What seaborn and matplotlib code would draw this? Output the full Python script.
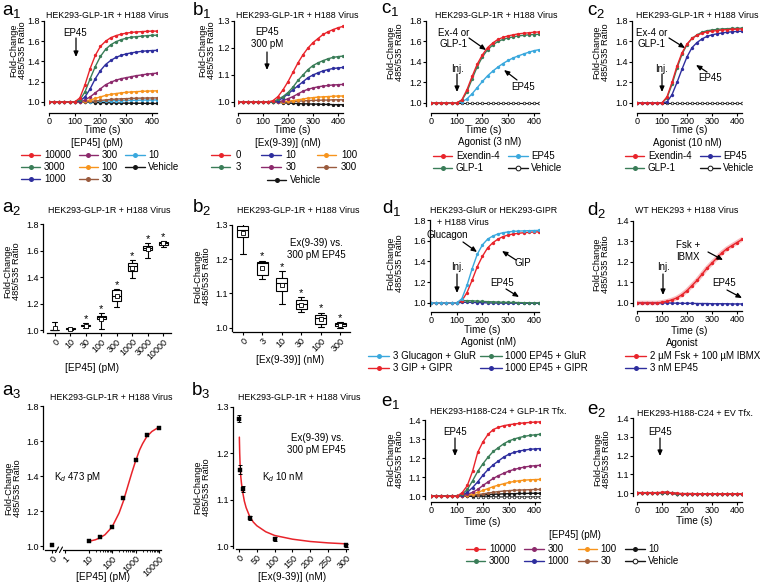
import numpy as np
import pandas as pd
import matplotlib
matplotlib.use("Agg")
import matplotlib.pyplot as plt
from matplotlib.lines import Line2D
from matplotlib.ticker import FixedLocator, NullFormatter
import seaborn as sns

sns.set_style("ticks", rc={"axes.edgecolor": "black", "xtick.color": "black",
                           "ytick.color": "black", "text.color": "black",
                           "axes.labelcolor": "black"})
plt.rcParams["font.family"] = ["Liberation Sans", "DejaVu Sans"]
plt.rcParams["mathtext.fontset"] = "custom"
plt.rcParams["mathtext.rm"] = "Liberation Sans"
plt.rcParams["mathtext.it"] = "Liberation Sans:italic"
plt.rcParams["mathtext.bf"] = "Liberation Sans:bold"

# ---------------- colours ----------------
RED = "#e8242b"
GREEN = "#3a7d58"
BLUE = "#2e2e9e"
PURPLE = "#8c2a6c"
ORANGE = "#f7941d"
BROWN = "#9a5b3e"
LBLUE = "#3aa8dd"
BLACK = "#151515"

# ---------------- data ----------------
T = [0, 20, 40, 60, 80, 100, 120, 140, 160, 180, 200, 220, 240, 260, 280, 300, 320, 340, 360, 380, 400, 420]

# a1: EP45 concentration (pM)
A1_LABELS = ["10000", "3000", "1000", "300", "100", "30", "10", "Vehicle"]
A1_10000 = [1, 1, 1, 1, 1, 1.0, 1.04, 1.17, 1.33, 1.46, 1.55, 1.60, 1.635, 1.655, 1.67, 1.68, 1.687, 1.692, 1.695, 1.698, 1.70, 1.70]
A1_3000 = [1, 1, 1, 1, 1, 1.0, 1.02, 1.10, 1.23, 1.35, 1.45, 1.52, 1.565, 1.595, 1.615, 1.63, 1.64, 1.645, 1.65, 1.655, 1.658, 1.66]
A1_1000 = [1, 1, 1, 1, 1, 1.0, 1.01, 1.05, 1.13, 1.23, 1.31, 1.37, 1.41, 1.44, 1.46, 1.475, 1.485, 1.493, 1.50, 1.505, 1.508, 1.51]
A1_300 = [1, 1, 1, 1, 1, 1.0, 1.0, 1.02, 1.05, 1.09, 1.13, 1.17, 1.195, 1.215, 1.23, 1.24, 1.25, 1.26, 1.267, 1.275, 1.28, 1.285]
A1_100 = [1, 1, 1, 1, 1, 1.0, 1.0, 1.005, 1.02, 1.035, 1.05, 1.065, 1.075, 1.083, 1.09, 1.095, 1.099, 1.102, 1.105, 1.107, 1.109, 1.11]
A1_30 = [1, 1, 1, 1, 1, 1.0, 1.0, 1.0, 1.005, 1.01, 1.015, 1.02, 1.025, 1.028, 1.031, 1.033, 1.035, 1.037, 1.038, 1.039, 1.04, 1.04]
A1_10 = [1, 1, 1, 1, 1, 1.0, 1.0, 1.0, 1.002, 1.005, 1.007, 1.009, 1.011, 1.013, 1.014, 1.015, 1.016, 1.017, 1.018, 1.019, 1.019, 1.02]
A1_VEH = [1, 1, 1, 1, 1, 1.0, 1.0, 0.998, 0.996, 0.994, 0.993, 0.992, 0.991, 0.99, 0.989, 0.988, 0.988, 0.987, 0.987, 0.986, 0.986, 0.985]

# b1: Ex(9-39) (nM) against 300 pM EP45
B1_LABELS = ["0", "3", "10", "30", "100", "300", "Vehicle"]
B1_0 = [1, 1, 1, 1, 1, 1, 1.0, 1.005, 1.02, 1.045, 1.075, 1.11, 1.145, 1.175, 1.20, 1.22, 1.235, 1.25, 1.26, 1.268, 1.275, 1.28]
B1_3 = [1, 1, 1, 1, 1, 1, 1.0, 1.0, 1.01, 1.02, 1.035, 1.055, 1.08, 1.10, 1.12, 1.135, 1.145, 1.153, 1.16, 1.165, 1.168, 1.17]
B1_10 = [1, 1, 1, 1, 1, 1, 1.0, 1.0, 1.005, 1.015, 1.03, 1.045, 1.06, 1.075, 1.09, 1.10, 1.108, 1.115, 1.12, 1.124, 1.126, 1.128]
B1_30 = [1, 1, 1, 1, 1, 1, 1.0, 1.0, 1.0, 1.005, 1.012, 1.02, 1.03, 1.04, 1.047, 1.052, 1.056, 1.059, 1.061, 1.063, 1.064, 1.065]
B1_100 = [1, 1, 1, 1, 1, 1, 1.0, 1.0, 1.0, 1.001, 1.003, 1.005, 1.008, 1.011, 1.014, 1.016, 1.018, 1.019, 1.02, 1.021, 1.022, 1.022]
B1_300 = [1, 1, 1, 1, 1, 1, 1.0, 1.0, 1.0, 1.0, 1.001, 1.002, 1.003, 1.004, 1.005, 1.006, 1.006, 1.007, 1.007, 1.008, 1.008, 1.008]
B1_VEH = [1, 1, 1, 1, 1, 1, 1.0, 0.999, 0.998, 0.997, 0.996, 0.995, 0.994, 0.993, 0.993, 0.992, 0.992, 0.991, 0.991, 0.99, 0.99, 0.99]

# c1: agonists at 3 nM
C_LABELS = ["Exendin-4", "GLP-1", "EP45", "Vehicle"]
C1_EX4 = [1, 1, 1, 1, 1, 1.0, 1.03, 1.13, 1.26, 1.38, 1.47, 1.54, 1.585, 1.62, 1.64, 1.655, 1.665, 1.675, 1.68, 1.685, 1.69, 1.693]
C1_GLP1 = [1, 1, 1, 1, 1, 1.0, 1.025, 1.11, 1.235, 1.355, 1.45, 1.52, 1.565, 1.60, 1.62, 1.635, 1.645, 1.655, 1.66, 1.665, 1.668, 1.67]
C1_EP45 = [1, 1, 1, 1, 1, 1.0, 1.01, 1.04, 1.09, 1.15, 1.21, 1.265, 1.31, 1.35, 1.385, 1.415, 1.44, 1.46, 1.478, 1.495, 1.51, 1.52]
C1_VEH = [1.0] * 22

# c2: agonists at 10 nM
C2_EX4 = [1, 1, 1, 1, 1, 1.0, 1.06, 1.20, 1.36, 1.49, 1.575, 1.63, 1.66, 1.68, 1.695, 1.70, 1.707, 1.712, 1.716, 1.718, 1.72, 1.722]
C2_GLP1 = [1, 1, 1, 1, 1, 1.0, 1.05, 1.18, 1.34, 1.475, 1.57, 1.63, 1.665, 1.69, 1.705, 1.712, 1.718, 1.722, 1.725, 1.727, 1.729, 1.73]
C2_EP45 = [1, 1, 1, 1, 1, 1.0, 1.01, 1.08, 1.20, 1.33, 1.45, 1.54, 1.59, 1.625, 1.65, 1.665, 1.675, 1.683, 1.69, 1.695, 1.698, 1.70]
C2_VEH = [1.0] * 22

# d1: GluR / GIPR cells
D1_LABELS = ["3 Glucagon + GluR", "3 GIP + GIPR", "1000 EP45 + GluR", "1000 EP45 + GIPR"]
D1_GLUC = [1, 1, 1, 1, 1, 1.0, 1.04, 1.17, 1.33, 1.47, 1.56, 1.615, 1.645, 1.665, 1.677, 1.685, 1.69, 1.693, 1.695, 1.697, 1.698, 1.70]
D1_GIP = [1, 1, 1, 1, 1, 1.0, 1.02, 1.10, 1.22, 1.35, 1.45, 1.53, 1.58, 1.615, 1.64, 1.655, 1.665, 1.672, 1.677, 1.681, 1.684, 1.686]
D1_EP_GLUR = [1, 1, 1, 1, 1, 1.002, 1.02, 1.022, 1.02, 1.017, 1.014, 1.012, 1.01, 1.008, 1.006, 1.005, 1.004, 1.003, 1.002, 1.001, 1.0, 1.0]
D1_EP_GIPR = [1, 1, 1, 1, 1, 1.0, 1.005, 1.006, 1.005, 1.003, 1.002, 1.0, 0.999, 0.998, 0.998, 0.997, 0.997, 0.997, 0.996, 0.996, 0.996, 0.996]

# d2: WT HEK293
D2_LABELS = ["2 \u00b5M Fsk + 100 \u00b5M IBMX", "3 nM EP45"]
D2_FSK = [1, 1, 1, 1, 1, 1.003, 1.008, 1.015, 1.025, 1.04, 1.06, 1.085, 1.11, 1.14, 1.17, 1.195, 1.22, 1.245, 1.265, 1.28, 1.295, 1.31]
D2_EP45 = [1, 1, 1, 1, 1, 1.0, 1.0, 0.999, 0.999, 0.998, 0.998, 0.998, 0.997, 0.997, 0.997, 0.996, 0.996, 0.996, 0.996, 0.995, 0.995, 0.995]

# e1: HEK293-H188-C24 + GLP-1R
E_LABELS = ["10000", "3000", "300", "1000", "100", "30", "10", "Vehicle"]
E1_10000 = [1, 1, 1, 1, 1, 1.0, 1.018, 1.056, 1.13, 1.23, 1.285, 1.325, 1.35, 1.362, 1.37, 1.375, 1.379, 1.382, 1.385, 1.387, 1.389, 1.39]
E1_3000 = [1, 1, 1, 1, 1, 1.0, 1.01, 1.035, 1.08, 1.13, 1.17, 1.205, 1.235, 1.255, 1.275, 1.29, 1.30, 1.308, 1.314, 1.319, 1.322, 1.325]
E1_1000 = [1, 1, 1, 1, 1, 1.0, 1.005, 1.02, 1.045, 1.075, 1.11, 1.14, 1.165, 1.185, 1.205, 1.22, 1.23, 1.237, 1.242, 1.246, 1.248, 1.25]
E1_300 = [1, 1, 1, 1, 1, 1.0, 1.002, 1.01, 1.02, 1.035, 1.056, 1.075, 1.093, 1.108, 1.12, 1.132, 1.14, 1.147, 1.153, 1.157, 1.16, 1.162]
E1_100 = [1, 1, 1, 1, 1, 1.0, 1.0, 1.005, 1.012, 1.02, 1.03, 1.04, 1.05, 1.058, 1.065, 1.072, 1.077, 1.081, 1.084, 1.086, 1.087, 1.088]
E1_30 = [1, 1, 1, 1, 1, 1.0, 1.0, 1.002, 1.005, 1.008, 1.012, 1.016, 1.02, 1.024, 1.027, 1.029, 1.031, 1.032, 1.033, 1.034, 1.035, 1.035]
E1_10 = [1, 1, 1, 1, 1, 1.0, 1.0, 1.0, 1.002, 1.004, 1.006, 1.008, 1.01, 1.011, 1.012, 1.013, 1.013, 1.014, 1.014, 1.015, 1.015, 1.015]
E1_VEH = [1, 1, 1, 1, 1, 1.0, 1.0, 0.999, 0.998, 0.998, 0.997, 0.997, 0.997, 0.996, 0.996, 0.996, 0.996, 0.996, 0.996, 0.996, 0.996, 0.996]

# e2: HEK293-H188-C24 + empty vector
E2_10000 = [1.003, 1.003, 1.003, 1.003, 1.003, 1.004, 1.005, 1.002, 0.999, 0.998, 0.998, 0.998, 0.997, 0.997, 0.997, 0.997, 0.997, 0.997, 0.997, 0.997, 0.997, 0.997]
E2_3000 = [1.002, 1.002, 1.002, 1.002, 1.002, 1.003, 1.005, 1.001, 0.998, 0.997, 0.997, 0.997, 0.997, 0.996, 0.996, 0.996, 0.996, 0.996, 0.996, 0.996, 0.996, 0.996]
E2_1000 = [1.002, 1.002, 1.002, 1.002, 1.002, 1.003, 1.004, 1.0, 0.998, 0.997, 0.996, 0.996, 0.996, 0.996, 0.996, 0.996, 0.996, 0.996, 0.996, 0.996, 0.996, 0.996]
E2_300 = [1.002, 1.002, 1.002, 1.002, 1.002, 1.003, 1.004, 1.0, 0.997, 0.996, 0.996, 0.996, 0.996, 0.996, 0.995, 0.995, 0.995, 0.995, 0.995, 0.995, 0.995, 0.995]
E2_100 = [1.001, 1.001, 1.001, 1.001, 1.001, 1.002, 1.004, 1.0, 0.997, 0.996, 0.996, 0.995, 0.995, 0.995, 0.995, 0.995, 0.995, 0.995, 0.995, 0.995, 0.995, 0.995]
E2_30 = [1.001, 1.001, 1.001, 1.001, 1.001, 1.002, 1.003, 0.999, 0.997, 0.996, 0.995, 0.995, 0.995, 0.995, 0.995, 0.995, 0.995, 0.995, 0.995, 0.995, 0.995, 0.995]
E2_10 = [1.001, 1.001, 1.001, 1.001, 1.001, 1.002, 1.003, 0.999, 0.996, 0.995, 0.995, 0.995, 0.995, 0.995, 0.995, 0.995, 0.995, 0.995, 0.995, 0.995, 0.995, 0.995]
E2_VEH = [1.0, 1.0, 1.0, 1.0, 1.0, 1.001, 1.002, 0.999, 0.997, 0.996, 0.996, 0.996, 0.996, 0.996, 0.996, 0.996, 0.996, 0.996, 0.996, 0.996, 0.996, 0.996]

# a2: box summaries (min, q1, median, q3, max) per EP45 concentration
A2_CATS = ["0", "10", "30", "100", "300", "1000", "3000", "10000"]
A2_VALUES = [
    [0.998, 0.999, 1.0, 1.002, 1.063],
    [1.0, 1.005, 1.01, 1.013, 1.017],
    [1.018, 1.027, 1.035, 1.04, 1.05],
    [1.01, 1.085, 1.098, 1.108, 1.125],
    [1.175, 1.22, 1.26, 1.30, 1.31],
    [1.39, 1.447, 1.48, 1.505, 1.525],
    [1.543, 1.607, 1.62, 1.633, 1.655],
    [1.63, 1.645, 1.655, 1.662, 1.675],
]
A2_SIG = [False, False, True, True, True, True, True, True]

# b2: box summaries per Ex(9-39) concentration
B2_CATS = ["0", "3", "10", "30", "100", "300"]
B2_VALUES = [
    [1.215, 1.264, 1.285, 1.297, 1.318],
    [1.143, 1.155, 1.189, 1.193, 1.196],
    [1.07, 1.108, 1.13, 1.145, 1.165],
    [1.045, 1.053, 1.068, 1.082, 1.089],
    [1.003, 1.01, 1.027, 1.037, 1.044],
    [1.0, 1.004, 1.01, 1.012, 1.017],
]
B2_SIG = [False, True, True, True, True, True]

# a3: concentration-response
A3_CONC = [0, 10, 30, 100, 300, 1000, 3000, 10000]
A3_RESP = [1.008, 1.032, 1.055, 1.109, 1.276, 1.491, 1.632, 1.676]
A3_FIT_X = [10, 20, 30, 50, 100, 200, 300, 500, 700, 1000, 1500, 2000, 3000, 5000, 10000]
A3_FIT_Y = [1.028, 1.038, 1.048, 1.066, 1.11, 1.19, 1.255, 1.355, 1.42, 1.485, 1.55, 1.585, 1.625, 1.655, 1.68]

# b3: antagonist inhibition
B3_CONC = [0, 3, 10, 30, 100, 300]
B3_RESP = [1.275, 1.165, 1.123, 1.061, 1.016, 1.002]
B3_ERR = [0.007, 0.009, 0.007, 0.004, 0.004, 0.003]
B3_FIT_X = [1, 2, 3, 5, 7, 10, 15, 20, 30, 40, 50, 75, 100, 150, 200, 250, 300]
B3_FIT_Y = [1.235, 1.20, 1.178, 1.15, 1.135, 1.118, 1.097, 1.083, 1.064, 1.052, 1.044, 1.031, 1.023, 1.015, 1.01, 1.007, 1.005]

# ---------------- figure helpers ----------------
W, H = 760, 587
fig = plt.figure(figsize=(7.6, 5.87), dpi=100)

FS_TICK = 6.5
FS_LAB = 7.2
FS_TITLE = 6.4
FS_LEG = 7
FS_ANN = 7
FS_YLAB = 6.7

YLABEL = "Fold-Change\n485/535 Ratio"


def fx(x):
    return x / W


def fy(y):
    return 1 - y / H


def px_ax(x0, x1, ytop, ybot):
    return fig.add_axes([x0 / W, 1 - ybot / H, (x1 - x0) / W, (ybot - ytop) / H])


def ftext(x, y, s, size=FS_ANN, ha="center", va="center", **kw):
    fig.text(fx(x), fy(y), s, fontsize=size, ha=ha, va=va, **kw)


def style_ax(ax, loff, boff, ylab_xy):
    for s in ["top", "right"]:
        ax.spines[s].set_visible(False)
    ax.spines["left"].set_position(("outward", loff * 0.72))
    ax.spines["bottom"].set_position(("outward", boff * 0.72))
    for s in ["left", "bottom"]:
        ax.spines[s].set_linewidth(0.9)
    ax.tick_params(axis="both", length=2.2, width=0.8, labelsize=FS_TICK, pad=0.8)
    ax.set_facecolor("none")
    ax.set_xlabel("")
    ax.set_ylabel("")
    fig.text(fx(ylab_xy[0] - 2), fy(ylab_xy[1]), YLABEL, rotation=90, fontsize=FS_YLAB,
             ha="center", va="center", multialignment="center", linespacing=1.05)


def trace(ax, y, color, open_marker=False, lw=1.0, z=2):
    kw = dict(marker="o", markersize=2.4, markeredgewidth=0)
    if open_marker:
        kw = dict(marker="o", markersize=1.9, markerfacecolor="white",
                  markeredgecolor=color, markeredgewidth=0.5)
    sns.lineplot(x=T, y=y, ax=ax, color=color, linewidth=lw, legend=False, zorder=z, **kw)


def handle(color, open_marker=False):
    if open_marker:
        return Line2D([], [], color=color, lw=1.0, marker="o", ms=3.4,
                      mfc="white", mec=color, mew=0.7)
    return Line2D([], [], color=color, lw=1.0, marker="o", ms=3.6, mew=0)


def legend_at(handles, labels, x, y, ncol, colsp=0.8, hl=2.0, tp=0.35):
    fig.legend(handles, labels, loc="upper left", bbox_to_anchor=(fx(x), fy(y)),
               ncol=ncol, frameon=False, fontsize=FS_LEG, handlelength=hl,
               handletextpad=tp, columnspacing=colsp, labelspacing=0.22,
               borderpad=0, borderaxespad=0)


def arrow(tail, tip):
    fig.add_artist(matplotlib.patches.FancyArrowPatch(
        (fx(tail[0]), fy(tail[1])), (fx(tip[0]), fy(tip[1])),
        transform=fig.transFigure, arrowstyle="-|>,head_length=3.2,head_width=1.4",
        color="black", lw=0.9, shrinkA=0, shrinkB=0))


def plabel(letter, sub, x, y):
    fig.text(fx(x), fy(y), letter + "$_{" + sub + "}$", fontsize=13.5, ha="left", va="baseline")


def time_axes(ax, ylim, yticks, xlab_xy):
    ax.set_xlim(0, 420)
    ax.set_ylim(*ylim)
    ax.set_xticks([0, 100, 200, 300, 400])
    ax.set_yticks(yticks)
    ax.set_yticklabels([f"{v:.1f}" for v in yticks])
    ftext(xlab_xy[0], xlab_xy[1], "Time (s)", size=FS_LAB)


# ================= a1 =================
ax = px_ax(49, 157, 21, 105)
a1_series = [A1_10000, A1_3000, A1_1000, A1_300, A1_100, A1_30, A1_10, A1_VEH]
a1_cols = [RED, GREEN, BLUE, PURPLE, ORANGE, BROWN, LBLUE, BLACK]
for y, c in list(zip(a1_series, a1_cols))[::-1]:
    trace(ax, y, c)
time_axes(ax, (0.97, 1.8), [1.0, 1.2, 1.4, 1.6, 1.8], (102, 130))
style_ax(ax, 5, 8, (20, 50))
ftext(107, 15, "HEK293-GLP-1R + H188 Virus", size=FS_TITLE)
ftext(75, 33, "EP45")
arrow((76, 38), (76, 57))
ftext(97, 143, "[EP45] (pM)", size=FS_LEG)
legend_at([handle(c) for c in a1_cols], A1_LABELS, 21, 150, 3)
plabel("a", "1", 2, 15)

# ================= b1 =================
ax = px_ax(238, 343, 21, 106)
b1_series = [B1_0, B1_3, B1_10, B1_30, B1_100, B1_300, B1_VEH]
b1_cols = [RED, GREEN, BLUE, PURPLE, ORANGE, BROWN, BLACK]
for y, c in list(zip(b1_series, b1_cols))[::-1]:
    trace(ax, y, c)
time_axes(ax, (0.985, 1.3), [1.0, 1.1, 1.2, 1.3], (292, 130))
style_ax(ax, 4, 7, (209, 50))
ftext(297, 15, "HEK293-GLP-1R + H188 Virus", size=FS_TITLE)
ftext(267, 32, "EP45")
ftext(267, 44, "300 pM")
arrow((267, 52), (267, 70))
ftext(288, 143, "[Ex(9-39)] (nM)", size=FS_LEG)
legend_at([handle(c) for c in b1_cols[:6]], B1_LABELS[:6], 211, 150, 3, colsp=2.1, tp=0.5)
legend_at([handle(BLACK)], ["Vehicle"], 267, 175, 1, tp=0.35)
plabel("b", "1", 192, 15)

# ================= c1 =================
ax = px_ax(431, 539, 21, 106)
trace(ax, C1_VEH, BLACK, open_marker=True, lw=0.8)
trace(ax, C1_EP45, LBLUE)
trace(ax, C1_GLP1, GREEN)
trace(ax, C1_EX4, RED)
time_axes(ax, (0.97, 1.8), [1.0, 1.2, 1.4, 1.6, 1.8], (483, 130))
style_ax(ax, 5, 7, (397, 52))
ftext(496, 15, "HEK293-GLP-1R + H188 Virus", size=FS_TITLE)
ftext(454, 33, "Ex-4 or")
ftext(454, 44, "GLP-1")
arrow((469, 38), (486, 50))
ftext(457, 69, "Inj.")
arrow((457, 74), (457, 92))
ftext(523, 87, "EP45")
arrow((517, 80), (504, 70))
ftext(490, 142, "Agonist (3 nM)", size=FS_LEG)
legend_at([handle(RED), handle(GREEN), handle(LBLUE), handle(BLACK, True)],
          C_LABELS, 433, 151, 2, colsp=0.9)
plabel("c", "1", 381, 13)

# ================= c2 =================
ax = px_ax(637, 742, 21, 106)
trace(ax, C2_VEH, BLACK, open_marker=True, lw=0.8)
trace(ax, C2_GLP1, GREEN)
trace(ax, C2_EP45, BLUE)
trace(ax, C2_EX4, RED)
time_axes(ax, (0.97, 1.8), [1.0, 1.2, 1.4, 1.6, 1.8], (689, 130))
style_ax(ax, 5, 7, (603, 52))
ftext(697, 15, "HEK293-GLP-1R + H188 Virus", size=FS_TITLE)
ftext(652, 33, "Ex-4 or")
ftext(652, 44, "GLP-1")
arrow((669, 38), (685, 48))
ftext(662, 69, "Inj.")
arrow((662, 74), (662, 92))
ftext(710, 78, "EP45")
arrow((707, 72), (696, 65))
ftext(687, 143, "Agonist (10 nM)", size=FS_LEG)
legend_at([handle(RED), handle(GREEN), handle(BLUE), handle(BLACK, True)],
          C_LABELS, 625, 151, 2, colsp=0.9)
plabel("c", "2", 587, 15)


# ================= a2 / b2 =================
def box_panel(ax, cats, values, sig, ylim, yticks, width, ast_off):
    df = pd.DataFrame({"conc": np.repeat(cats, 5), "v": np.concatenate(values)})
    sns.boxplot(data=df, x="conc", y="v", order=cats, ax=ax, color="white",
                linecolor="black", linewidth=0.8, width=width, whis=(0, 100),
                showmeans=True,
                meanprops=dict(marker="s", markerfacecolor="white", markeredgecolor="black",
                               markersize=2.2, markeredgewidth=0.6),
                medianprops=dict(color="black", linewidth=0.8))
    for i, (vals, s) in enumerate(zip(values, sig)):
        if s:
            ax.text(i, max(vals) + ast_off, "*", ha="center", va="center", fontsize=8)
    ax.set_xlim(-0.5, len(cats) - 0.5)
    ax.set_ylim(*ylim)
    ax.set_yticks(yticks)
    ax.set_yticklabels([f"{v:.1f}" for v in yticks])


ax = px_ax(47, 171, 224, 332)
box_panel(ax, A2_CATS, A2_VALUES, A2_SIG, (0.985, 1.8), [1.0, 1.2, 1.4, 1.6, 1.8], 0.6, 0.03)
style_ax(ax, 4, 1, (14, 271))
plt.setp(ax.get_xticklabels(), rotation=45, ha="right", rotation_mode="anchor")
ftext(92, 368, "[EP45] (pM)", size=FS_LAB)
ftext(109, 210, "HEK293-GLP-1R + H188 Virus", size=FS_TITLE)
plabel("a", "2", 2, 212)

ax = px_ax(233, 350, 225, 331)
box_panel(ax, B2_CATS, B2_VALUES, B2_SIG, (0.99, 1.3), [1.0, 1.1, 1.2, 1.3], 0.58, 0.012)
style_ax(ax, 1, 1, (204, 276))
plt.setp(ax.get_xticklabels(), rotation=45, ha="right", rotation_mode="anchor")
ftext(290, 360, "[Ex(9-39)] (nM)", size=FS_LAB)
ftext(298, 210, "HEK293-GLP-1R + H188 Virus", size=FS_TITLE)
ftext(316, 243, "Ex(9-39) vs.")
ftext(316, 255, "300 pM EP45")
plabel("b", "2", 192, 212)

# ================= d1 =================
ax = px_ax(431, 539, 220, 306)
trace(ax, D1_EP_GIPR, BLUE)
trace(ax, D1_EP_GLUR, GREEN)
trace(ax, D1_GIP, RED)
trace(ax, D1_GLUC, LBLUE)
time_axes(ax, (0.97, 1.8), [1.0, 1.2, 1.4, 1.6, 1.8], (482, 330))
style_ax(ax, 1, 6, (397, 263))
ftext(430, 210, "HEK293-GluR or HEK293-GIPR", size=FS_TITLE, ha="left")
ftext(437, 222, "+ H188 Virus", size=FS_TITLE, ha="left")
ftext(447, 235, "Glucagon")
arrow((463, 242), (477, 252))
ftext(523, 263, "GIP")
arrow((516, 260), (502, 251))
ftext(457, 267, "Inj.")
arrow((457, 274), (457, 293))
ftext(502, 283, "EP45")
arrow((506, 289), (519, 297))
ftext(489, 342, "Agonist (nM)", size=FS_LEG)
legend_at([handle(LBLUE), handle(RED), handle(GREEN), handle(BLUE)],
          D1_LABELS, 368, 351, 2, colsp=0.45, hl=2.2)
plabel("d", "1", 382, 213)

# ================= d2 =================
ax = px_ax(637, 742, 221, 306)
sns.lineplot(x=T, y=D2_FSK, ax=ax, color=RED, linewidth=3.2, alpha=0.3, legend=False)
trace(ax, D2_EP45, BLUE)
trace(ax, D2_FSK, RED)
time_axes(ax, (0.985, 1.4), [1.0, 1.1, 1.2, 1.3, 1.4], (689, 331))
style_ax(ax, 4, 5, (603, 264))
ftext(687, 210, "WT HEK293 + H188 Virus", size=FS_TITLE)
ftext(688, 245, "Fsk +")
ftext(688, 257, "IBMX")
arrow((708, 252), (723, 260))
ftext(663, 267, "Inj.")
arrow((663, 274), (663, 295))
ftext(724, 283, "EP45")
arrow((727, 290), (742, 298))
ftext(682, 343, "Agonist", size=FS_LEG)
legend_at([handle(RED), handle(BLUE)], D2_LABELS, 625, 351, 1, hl=2.2)
plabel("d", "2", 587, 215)

# ================= a3 =================
LDEC = 23.5
X0 = 10 ** (-13 / LDEC)
ax = px_ax(45, 161, 406, 549)
ax.set_xscale("log")
a3_x = [X0 if v == 0 else v for v in A3_CONC]
sns.lineplot(x=A3_FIT_X, y=A3_FIT_Y, ax=ax, color=RED, linewidth=1.1, legend=False)
sns.scatterplot(x=a3_x, y=A3_RESP, ax=ax, marker="s", color="black", s=9,
                edgecolor="black", linewidth=0.3, legend=False, zorder=3)
ax.set_xlim(10 ** (-20 / LDEC), 10 ** (96 / LDEC))
ax.set_ylim(0.985, 1.8)
ax.set_yticks([1.0, 1.2, 1.4, 1.6, 1.8])
ax.set_yticklabels(["1.0", "1.2", "1.4", "1.6", "1.8"])
ax.set_xticks([X0, 1, 10, 100, 1000, 10000])
ax.set_xticklabels(["0", "1", "10", "100", "1000", "10000"])
ax.xaxis.set_minor_locator(FixedLocator([m * d for d in (10, 100, 1000) for m in range(2, 10)]))
ax.xaxis.set_minor_formatter(NullFormatter())
style_ax(ax, 2, 1, (15, 488))
ax.tick_params(axis="x", which="minor", length=1.5, width=0.6)
plt.setp(ax.get_xticklabels(), rotation=45, ha="right", rotation_mode="anchor")
ftext(103, 577, "[EP45] (pM)", size=FS_LAB)
ftext(111, 397, "HEK293-GLP-1R + H188 Virus", size=FS_TITLE)
ftext(54, 477, "K$_d$ 473 pM", ha="left")
ax.add_patch(matplotlib.patches.Rectangle((fx(57), fy(552)), 6 / W, 5 / H, transform=fig.transFigure,
                                          facecolor="white", edgecolor="none", zorder=5, clip_on=False))
for bx in (57, 61):
    fig.add_artist(Line2D([fx(bx - 1.5), fx(bx + 1.5)], [fy(552.5), fy(547)], color="black", lw=0.8))
plabel("a", "3", 2, 395)

# ================= b3 =================
ax = px_ax(236, 348, 407, 548)
sns.lineplot(x=B3_FIT_X, y=B3_FIT_Y, ax=ax, color=RED, linewidth=1.1, legend=False)
ax.errorbar(B3_CONC, B3_RESP, yerr=B3_ERR, fmt="none", ecolor="black", elinewidth=0.7,
            capsize=1.2, capthick=0.7, zorder=3)
sns.scatterplot(x=B3_CONC, y=B3_RESP, ax=ax, marker="s", color="black", s=9,
                edgecolor="black", linewidth=0.3, legend=False, zorder=4)
ax.set_xlim(-8.4, 305.6)
ax.set_ylim(0.996, 1.3)
ax.set_yticks([1.0, 1.1, 1.2, 1.3])
ax.set_yticklabels(["1.0", "1.1", "1.2", "1.3"])
ax.set_xticks([0, 50, 100, 150, 200, 250, 300])
style_ax(ax, 3, 1, (204, 487))
plt.setp(ax.get_xticklabels(), rotation=45, ha="right", rotation_mode="anchor")
ftext(292, 577, "[Ex(9-39)] (nM)", size=FS_LAB)
ftext(299, 397, "HEK293-GLP-1R + H188 Virus", size=FS_TITLE)
ftext(317, 438, "Ex(9-39) vs.")
ftext(316, 450, "300 pM EP45")
ftext(262, 477, "K$_d$ 10 nM", ha="left")
plabel("b", "3", 191, 395)

# ================= e1 =================
ax = px_ax(431, 540, 420, 499)
e1_series = [E1_10000, E1_3000, E1_1000, E1_300, E1_100, E1_30, E1_10, E1_VEH]
e_cols = [RED, GREEN, BLUE, PURPLE, ORANGE, BROWN, BLACK, BLACK]
e_open = [False] * 7 + [True]
for y, c, o in list(zip(e1_series, e_cols, e_open))[::-1]:
    trace(ax, y, c, open_marker=o, lw=1.0 if not o else 0.8)
time_axes(ax, (0.985, 1.4), [1.0, 1.1, 1.2, 1.3, 1.4], (482, 522))
style_ax(ax, 6, 3, (397, 459))
ftext(430, 412, "HEK293-H188-C24 + GLP-1R Tfx.", size=FS_TITLE, ha="left")
ftext(455, 432, "EP45")
arrow((455, 438), (455, 456))
plabel("e", "1", 381, 406)

# ================= e2 =================
ax = px_ax(637, 742, 418, 496)
e2_series = [E2_10000, E2_3000, E2_1000, E2_300, E2_100, E2_30, E2_10, E2_VEH]
for y, c, o in list(zip(e2_series, e_cols, e_open))[::-1]:
    trace(ax, y, c, open_marker=o, lw=1.0 if not o else 0.8)
time_axes(ax, (0.985, 1.4), [1.0, 1.1, 1.2, 1.3, 1.4], (694, 521))
style_ax(ax, 4, 6, (604, 459))
ftext(637, 413, "HEK293-H188-C24 + EV Tfx.", size=FS_TITLE, ha="left")
ftext(660, 432, "EP45")
arrow((660, 438), (660, 456))
plabel("e", "2", 587, 414)

# shared e legend (column-major: 10000/3000, 300/1000, 100/30, 10/Vehicle)
ftext(575, 535, "[EP45] (pM)", size=FS_LEG)
leg_handles = [handle(RED), handle(GREEN), handle(PURPLE), handle(BLUE),
               handle(ORANGE), handle(BROWN), handle(BLACK), handle(BLACK, True)]
legend_at(leg_handles, E_LABELS, 466, 544, 4, colsp=0.9)

fig.savefig("out.png", dpi=100)
